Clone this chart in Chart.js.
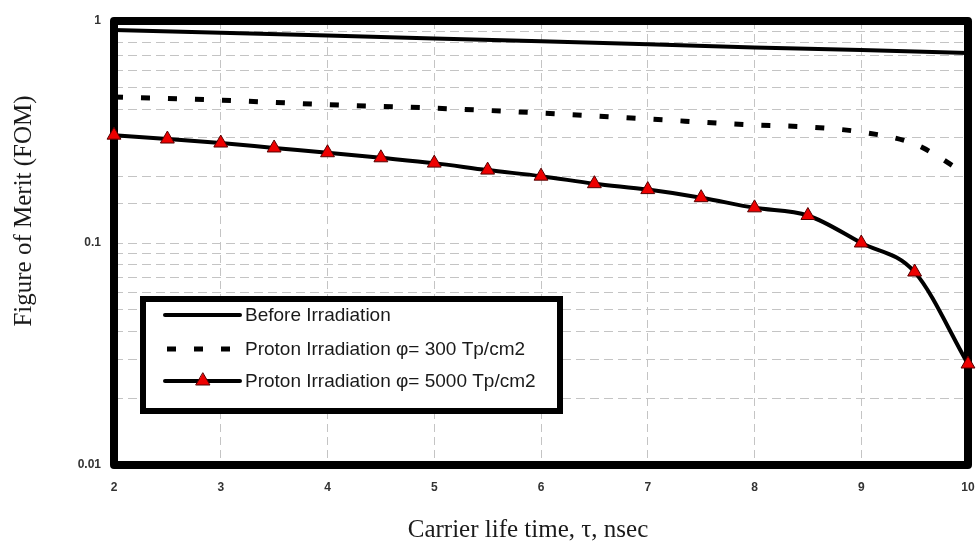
<!DOCTYPE html>
<html>
<head>
<meta charset="utf-8">
<script src="https://cdn.jsdelivr.net/npm/chart.js@4/dist/chart.umd.min.js"></script>
<style>
  html, body { margin: 0; padding: 0; background: #fff; }
  #chart { display: block; }
</style>
</head>
<body>
<canvas id="chart" width="979" height="541"></canvas>
<script>
// values
const tauBefore = [2, 3, 4, 5, 6, 7, 8, 9, 10];
const fomBefore = [0.91, 0.885, 0.86, 0.835, 0.81, 0.785, 0.76, 0.74, 0.718];

const tau300 = [2, 3, 4, 5, 6, 7, 8, 8.5, 9, 9.5, 10];
const fom300 = [0.455, 0.44, 0.42, 0.405, 0.385, 0.362, 0.34, 0.333, 0.316, 0.279, 0.202];

const tau5000 = [2, 2.5, 3, 3.5, 4, 4.5, 5, 5.5, 6, 6.5, 7, 7.5, 8, 8.5, 9, 9.5, 10];
const fom5000 = [0.306, 0.294, 0.282, 0.268, 0.255, 0.242, 0.229, 0.213, 0.2, 0.185, 0.174, 0.16, 0.144, 0.133, 0.1, 0.074, 0.0285];

const seriesLabels = ['Before Irradiation', 'Proton Irradiation \u03c6= 300 Tp/cm2', 'Proton Irradiation \u03c6= 5000 Tp/cm2'];
const xTitle = 'Carrier life time, \u03c4, nsec';
const yTitle = 'Figure of Merit (FOM)';

const toPoints = (xs, ys) => xs.map((x, i) => ({ x: x, y: ys[i] }));

// thick frame around the plot, under the lines
const framePlugin = {
    id: 'frame',
    beforeDatasetsDraw(chart) {
        const { ctx, chartArea: a } = chart;
        ctx.save();
        ctx.strokeStyle = '#000';
        ctx.lineWidth = 8;
        ctx.lineJoin = 'round';
        ctx.strokeRect(a.left, a.top, a.right - a.left, a.bottom - a.top);
        ctx.restore();
    }
};

// boxed legend inside the plot + axis titles
const legendPlugin = {
    id: 'boxLegend',
    afterDatasetsDraw(chart) {
        const { ctx } = chart;
        ctx.save();
        ctx.fillStyle = '#fff';
        ctx.fillRect(143, 299, 417, 112);
        ctx.strokeStyle = '#000';
        ctx.lineWidth = 6;
        ctx.strokeRect(143, 299, 417, 112);

        const rowsY = [315, 349, 381];
        chart.data.datasets.forEach((ds, i) => {
            const y = rowsY[i];
            ctx.strokeStyle = '#000';
            ctx.lineWidth = ds.borderWidth;
            ctx.lineCap = ds.borderDash ? 'butt' : 'round';
            ctx.setLineDash(ds.borderDash || []);
            ctx.beginPath();
            ctx.moveTo(ds.borderDash ? 167 : 165, y);
            ctx.lineTo(240, y);
            ctx.stroke();
            ctx.setLineDash([]);
            if (ds.pointRadius > 0) {
                const cx = 203, r = ds.pointRadius;
                ctx.fillStyle = ds.pointBackgroundColor;
                ctx.strokeStyle = ds.pointBorderColor;
                ctx.lineWidth = 1;
                ctx.beginPath();
                ctx.moveTo(cx, y - r);
                ctx.lineTo(cx + r * 0.87, y + r * 0.5);
                ctx.lineTo(cx - r * 0.87, y + r * 0.5);
                ctx.closePath();
                ctx.fill();
                ctx.stroke();
            }
            ctx.fillStyle = '#1a1a1a';
            ctx.font = '19px "Liberation Sans", Arial, sans-serif';
            ctx.textBaseline = 'middle';
            ctx.textAlign = 'left';
            ctx.fillText(ds.label, 245, y + 1);
        });

        ctx.fillStyle = '#1a1a1a';
        ctx.font = '25px "Liberation Serif", "Times New Roman", serif';
        ctx.textAlign = 'center';
        ctx.textBaseline = 'alphabetic';
        ctx.fillText(xTitle, 528, 537);
        ctx.translate(31, 211);
        ctx.rotate(-Math.PI / 2);
        ctx.fillText(yTitle, 0, 0);
        ctx.restore();
    }
};

const isDecade = v => Math.abs(Math.log10(v) - Math.round(Math.log10(v))) < 1e-9;
const tickFont = { family: '"Liberation Sans", Arial, sans-serif', size: 12, weight: 'bold' };

const ctxFom = document.getElementById('chart').getContext('2d');
const fomChart = new Chart(ctxFom, {
    type: 'line',
    data: {
        datasets: [{
            label: seriesLabels[0],
            data: toPoints(tauBefore, fomBefore),
            borderColor: '#000',
            borderWidth: 4,
            pointRadius: 0,
            tension: 0,
            clip: false
        }, {
            label: seriesLabels[1],
            data: toPoints(tau300, fom300),
            borderColor: '#000',
            borderWidth: 5,
            borderDash: [9, 18],
            pointRadius: 0,
            cubicInterpolationMode: 'monotone',
            clip: false
        }, {
            label: seriesLabels[2],
            data: toPoints(tau5000, fom5000),
            borderColor: '#000',
            borderWidth: 4,
            pointStyle: 'triangle',
            pointRadius: 8,
            pointBackgroundColor: '#ee0000',
            pointBorderColor: '#500',
            pointBorderWidth: 1,
            cubicInterpolationMode: 'monotone',
            clip: false
        }]
    },
    options: {
        responsive: false,
        animation: false,
        devicePixelRatio: 1,
        layout: { padding: { top: 21, right: 11, left: 0, bottom: 0 } },
        plugins: { legend: { display: false }, tooltip: { enabled: false } },
        scales: {
            x: {
                type: 'linear',
                min: 2,
                max: 10,
                afterFit(scale) {
                    scale.height = 76;
                    scale.paddingLeft = 0;
                    scale.paddingRight = 0;
                },
                ticks: { stepSize: 1, padding: 15, color: '#333', font: tickFont },
                grid: { color: '#c4c4c4', lineWidth: 1, drawTicks: false },
                border: { display: false, dash: [8, 5] }
            },
            y: {
                type: 'logarithmic',
                min: 0.01,
                max: 1,
                afterFit(scale) {
                    scale.width = 114;
                    scale.paddingTop = 0;
                    scale.paddingBottom = 0;
                },
                ticks: {
                    autoSkip: false,
                    padding: 13,
                    color: '#333',
                    font: tickFont,
                    callback: v => isDecade(v) ? String(Number(v.toPrecision(3))) : ''
                },
                grid: { color: '#c4c4c4', lineWidth: 1, drawTicks: false },
                border: { display: false, dash: [9, 5] }
            }
        }
    },
    plugins: [framePlugin, legendPlugin]
});
</script>
</body>
</html>
